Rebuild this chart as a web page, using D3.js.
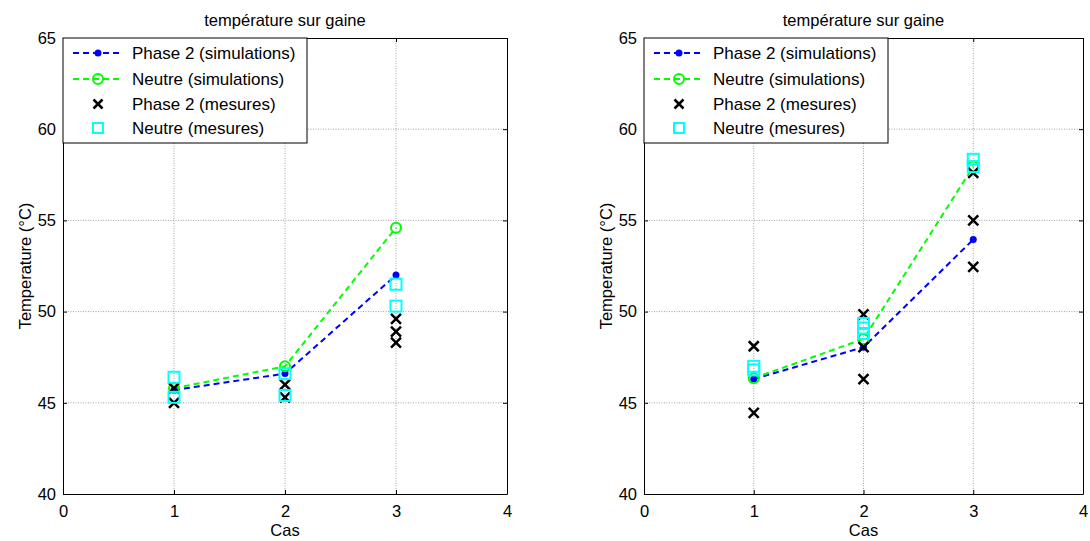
<!DOCTYPE html>
<html><head><meta charset="utf-8">
<script src="https://cdn.jsdelivr.net/npm/d3@7"></script>
<style>body{margin:0;background:#fff}svg{display:block;font-family:"Liberation Sans",Arial,sans-serif}</style>
</head><body>
<svg id="c" width="1090" height="541"></svg>
<script>
// ---- data ----
const categories = [1, 2, 3];
const xTicks = [0, 1, 2, 3, 4];
const yTicks = [40, 45, 50, 55, 60, 65];
const titleText = "température sur gaine";
const xLabel = "Cas";
const yLabel = "Temperature (°C)";
const legendLabels = ["Phase 2 (simulations)", "Neutre (simulations)", "Phase 2 (mesures)", "Neutre (mesures)"];

// left panel
const leftPhaseSim = [45.7, 46.6, 52.0];
const leftNeutreSim = [45.8, 47.0, 54.6];
const leftPhaseMes = [[1, 45.8], [1, 45.0], [2, 46.0], [2, 45.3], [3, 49.6], [3, 48.9], [3, 48.3]];
const leftNeutreMes = [[1, 46.4], [1, 45.3], [2, 46.6], [2, 45.4], [3, 51.5], [3, 50.3]];

// right panel
const rightPhaseSim = [46.3, 48.05, 53.95];
const rightNeutreSim = [46.35, 48.5, 57.95];
const rightPhaseMes = [[1, 48.1], [1, 44.45], [2, 49.85], [2, 48.05], [2, 46.3], [3, 57.6], [3, 55.0], [3, 52.45]];
const rightNeutreMes = [[1, 47.0], [1, 46.8], [2, 49.35], [2, 49.1], [2, 48.8], [3, 58.35], [3, 57.95]];

const svg = d3.select("#c");
const BLUE = "#0000ff", GREEN = "#00ff00", CYAN = "#00ffff";
const FONT = '"Liberation Sans",Arial,sans-serif';

function panel(x0, x1, phaseSim, neutreSim, phaseMes, neutreMes) {
  const top = 38, bottom = 494;
  const x = d3.scaleLinear().domain([0, 4]).range([x0, x1]);
  const y = d3.scaleLinear().domain([40, 65]).range([bottom, top]);
  const g = svg.append("g");

  // grid
  g.selectAll(".gx").data(xTicks.slice(1, -1)).join("line")
    .attr("x1", d => x(d)).attr("x2", d => x(d)).attr("y1", top).attr("y2", bottom)
    .attr("stroke", "#8a8a8a").attr("stroke-width", 0.8).attr("stroke-dasharray", "1,1.5");
  g.selectAll(".gy").data(yTicks.slice(1, -1)).join("line")
    .attr("y1", d => y(d)).attr("y2", d => y(d)).attr("x1", x0).attr("x2", x1)
    .attr("stroke", "#8a8a8a").attr("stroke-width", 0.8).attr("stroke-dasharray", "1,1.5");

  // axes
  const ax = g.append("g").attr("transform", `translate(0,${bottom})`)
    .call(d3.axisBottom(x).tickValues(xTicks).tickSizeInner(-4).tickSizeOuter(0).tickPadding(11).tickFormat(d3.format("d")));
  const axT = g.append("g").attr("transform", `translate(0,${top})`)
    .call(d3.axisTop(x).tickValues(xTicks).tickSizeInner(-4).tickSizeOuter(0).tickFormat(""));
  const ay = g.append("g").attr("transform", `translate(${x0},0)`)
    .call(d3.axisLeft(y).tickValues(yTicks).tickSizeInner(-4).tickSizeOuter(0).tickPadding(7).tickFormat(d3.format("d")));
  const ayR = g.append("g").attr("transform", `translate(${x1},0)`)
    .call(d3.axisRight(y).tickValues(yTicks).tickSizeInner(-4).tickSizeOuter(0).tickFormat(""));
  [ax, axT, ay, ayR].forEach(a => {
    a.select(".domain").attr("stroke", "#000").attr("stroke-width", 1);
    a.selectAll(".tick line").attr("stroke", "#000");
    a.selectAll("text").attr("font-size", 16.5).attr("fill", "#000").attr("font-family", FONT);
  });

  // lines
  const line = d3.line().x((d, i) => x(categories[i])).y(d => y(d));
  g.append("path").datum(phaseSim).attr("d", line).attr("fill", "none")
    .attr("stroke", BLUE).attr("stroke-width", 2).attr("stroke-dasharray", "6,4");
  g.append("path").datum(neutreSim).attr("d", line).attr("fill", "none")
    .attr("stroke", GREEN).attr("stroke-width", 2).attr("stroke-dasharray", "6,4");

  // markers
  g.selectAll(".bd").data(phaseSim).join("circle")
    .attr("cx", (d, i) => x(categories[i])).attr("cy", d => y(d)).attr("r", 3.5).attr("fill", BLUE);
  g.selectAll(".gc").data(neutreSim).join("circle")
    .attr("cx", (d, i) => x(categories[i])).attr("cy", d => y(d)).attr("r", 5).attr("fill", "none")
    .attr("stroke", GREEN).attr("stroke-width", 2);
  g.selectAll(".xm").data(phaseMes).join("path")
    .attr("d", d => { const cx = x(d[0]), cy = y(d[1]), s = 5;
      return `M${cx - s},${cy - s}L${cx + s},${cy + s}M${cx - s},${cy + s}L${cx + s},${cy - s}`; })
    .attr("stroke", "#000").attr("stroke-width", 2.5);
  g.selectAll(".sq").data(neutreMes).join("rect")
    .attr("x", d => x(d[0]) - 5.5).attr("y", d => y(d[1]) - 5.5).attr("width", 11).attr("height", 11)
    .attr("fill", "none").attr("stroke", CYAN).attr("stroke-width", 2);

  // title & labels
  const cx = (x0 + x1) / 2;
  g.append("text").attr("x", cx).attr("y", 26).attr("text-anchor", "middle").attr("font-size", 16.5).text(titleText);
  g.append("text").attr("x", cx).attr("y", 536).attr("text-anchor", "middle").attr("font-size", 16.5).text(xLabel);
  g.append("text").attr("transform", `translate(${x0 - 32},${(top + bottom) / 2}) rotate(-90)`)
    .attr("text-anchor", "middle").attr("font-size", 16.5).text(yLabel);

  // legend
  const lg = g.append("g").attr("transform", `translate(${x0},${top})`);
  lg.append("rect").attr("x", 0).attr("y", 0).attr("width", 244).attr("height", 105)
    .attr("fill", "#fff").attr("stroke", "#000").attr("stroke-width", 1);
  const rows = [15, 41, 66, 90];
  legendLabels.forEach((lab, i) => {
    const ry = rows[i];
    const mx = 35;
    if (i === 0) {
      lg.append("line").attr("x1", 10).attr("x2", 60).attr("y1", ry).attr("y2", ry)
        .attr("stroke", BLUE).attr("stroke-width", 2).attr("stroke-dasharray", "6,4");
      lg.append("circle").attr("cx", mx).attr("cy", ry).attr("r", 3.5).attr("fill", BLUE);
    } else if (i === 1) {
      lg.append("line").attr("x1", 10).attr("x2", 60).attr("y1", ry).attr("y2", ry)
        .attr("stroke", GREEN).attr("stroke-width", 2).attr("stroke-dasharray", "6,4");
      lg.append("circle").attr("cx", mx).attr("cy", ry).attr("r", 5).attr("fill", "none")
        .attr("stroke", GREEN).attr("stroke-width", 2);
    } else if (i === 2) {
      const s = 4.5;
      lg.append("path").attr("d", `M${mx - s},${ry - s}L${mx + s},${ry + s}M${mx - s},${ry + s}L${mx + s},${ry - s}`)
        .attr("stroke", "#000").attr("stroke-width", 2.5);
    } else {
      lg.append("rect").attr("x", mx - 5).attr("y", ry - 5).attr("width", 10).attr("height", 10)
        .attr("fill", "none").attr("stroke", CYAN).attr("stroke-width", 2);
    }
    lg.append("text").attr("x", 69).attr("y", ry).attr("dy", "0.35em").attr("font-size", 17).text(lab);
  });
}

panel(63, 507, leftPhaseSim, leftNeutreSim, leftPhaseMes, leftNeutreMes);
panel(644, 1083, rightPhaseSim, rightNeutreSim, rightPhaseMes, rightNeutreMes);
</script>
</body></html>
